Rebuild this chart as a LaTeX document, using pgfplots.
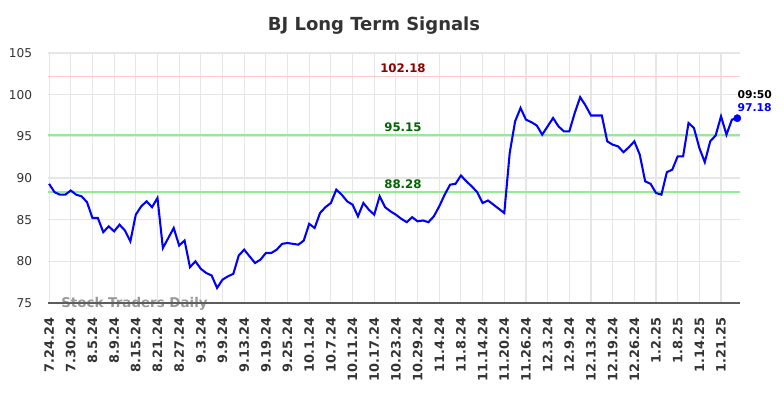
\documentclass[border=0pt]{standalone}
\usepackage{pgfplots}
\pgfplotsset{compat=1.18}
\usepackage{fontspec}
\setmainfont{DejaVu Sans}
\definecolor{titlegray}{HTML}{333333}
\definecolor{gridgray}{HTML}{E6E6E6}
\definecolor{reslite}{HTML}{FFCCCC}
\definecolor{suplite}{HTML}{90EE90}
\definecolor{darkred}{HTML}{8B0000}
\definecolor{darkgreen}{HTML}{006400}
\definecolor{wmgray}{HTML}{999999}
\begin{document}
\begin{tikzpicture}
\useasboundingbox (0,0) rectangle (7.84in,3.98in);
\node[font=\bfseries\fontsize{13}{15}\selectfont, text=titlegray] at (3.74in,3.72in) {BJ Long Term Signals};
\begin{axis}[
  at={(0.48in,0.95in)}, anchor=south west,
  scale only axis, width=6.92in, height=2.50in,
  xmin=-0.2, xmax=127.5, ymin=75, ymax=105,
  clip=false,
  axis line style={draw=none},
  tick style={draw=none},
  xtick={0,4,...,124},
  xticklabels={7.24.24,7.30.24,8.5.24,8.9.24,8.15.24,8.21.24,8.27.24,9.3.24,9.9.24,9.13.24,9.19.24,9.25.24,10.1.24,10.7.24,10.11.24,10.17.24,10.23.24,10.29.24,11.4.24,11.8.24,11.14.24,11.20.24,11.26.24,12.3.24,12.9.24,12.13.24,12.19.24,12.26.24,1.2.25,1.8.25,1.14.25,1.21.25},
  xticklabel style={rotate=90, anchor=east, font=\bfseries\fontsize{9.3}{10}\selectfont, text=titlegray},
  xticklabel shift=0.1in,
  ytick={75,80,...,105},
  yticklabel style={font=\fontsize{8.8}{10}\selectfont, text=titlegray, xshift=-0.11in},
  /pgf/number format/assume math mode=true,
  grid=major,
  major grid style={draw=gridgray, line width=0.8pt},
]
\node[anchor=west, font=\bfseries\fontsize{9.7}{10}\selectfont, text=wmgray, inner sep=0pt] at (axis cs:2.2,74.9) {Stock Traders Daily};
\draw[draw=titlegray!80, line width=1.0pt] (rel axis cs:0,0) -- (rel axis cs:1,0);
\addplot[draw=reslite, line width=1.4pt, forget plot] coordinates {(-0.2,102.18) (127.5,102.18)};
\addplot[draw=suplite, line width=1.5pt, forget plot] coordinates {(-0.2,95.15) (127.5,95.15)};
\addplot[draw=suplite, line width=1.5pt, forget plot] coordinates {(-0.2,88.28) (127.5,88.28)};
\node[anchor=south, font=\bfseries\fontsize{8.5}{10}\selectfont, text=darkred, inner sep=2.5pt] at (axis cs:65.3,102.18) {102.18};
\node[anchor=south, font=\bfseries\fontsize{8.5}{10}\selectfont, text=darkgreen, inner sep=2.5pt] at (axis cs:65.3,95.15) {95.15};
\node[anchor=south, font=\bfseries\fontsize{8.5}{10}\selectfont, text=darkgreen, inner sep=2.5pt] at (axis cs:65.3,88.28) {88.28};
\addplot[color=blue, line width=1.5pt, mark=none] table {
x y
0 89.3
1 88.3
2 88.0
3 88.0
4 88.5
5 88.0
6 87.8
7 87.1
8 85.2
9 85.2
10 83.5
11 84.2
12 83.6
13 84.4
14 83.7
15 82.4
16 85.6
17 86.6
18 87.2
19 86.5
20 87.6
21 81.6
22 82.8
23 84.0
24 81.9
25 82.5
26 79.3
27 80.0
28 79.1
29 78.6
30 78.3
31 76.8
32 77.8
33 78.2
34 78.5
35 80.7
36 81.4
37 80.6
38 79.8
39 80.2
40 81.0
41 81.0
42 81.4
43 82.1
44 82.2
45 82.1
46 82.0
47 82.5
48 84.5
49 84.0
50 85.8
51 86.5
52 87.0
53 88.6
54 88.0
55 87.2
56 86.8
57 85.4
58 87.0
59 86.2
60 85.6
61 87.8
62 86.5
63 86.0
64 85.6
65 85.1
66 84.7
67 85.3
68 84.8
69 84.9
70 84.7
71 85.4
72 86.6
73 88.0
74 89.2
75 89.3
76 90.3
77 89.6
78 89.0
79 88.3
80 87.0
81 87.3
82 86.8
83 86.3
84 85.8
85 93.0
86 96.8
87 98.4
88 97.0
89 96.7
90 96.3
91 95.2
92 96.2
93 97.2
94 96.2
95 95.6
96 95.6
97 97.8
98 99.7
99 98.7
100 97.5
101 97.5
102 97.5
103 94.4
104 94.0
105 93.8
106 93.1
107 93.7
108 94.4
109 92.8
110 89.6
111 89.3
112 88.2
113 88.0
114 90.7
115 91.0
116 92.6
117 92.6
118 96.6
119 96.0
120 93.6
121 91.9
122 94.4
123 95.1
124 97.4
125 95.2
126 97.0
127 97.18
};
\addplot[only marks, mark=*, mark size=2.6pt, color=blue] coordinates {(127,97.18)};
\node[anchor=west, font=\bfseries\fontsize{7.8}{9}\selectfont, text=black, inner sep=0pt] at (axis cs:127,99.96) {09:50};
\node[anchor=west, font=\bfseries\fontsize{7.8}{9}\selectfont, text=blue, inner sep=0pt] at (axis cs:127,98.44) {97.18};
\end{axis}
\end{tikzpicture}
\end{document}
